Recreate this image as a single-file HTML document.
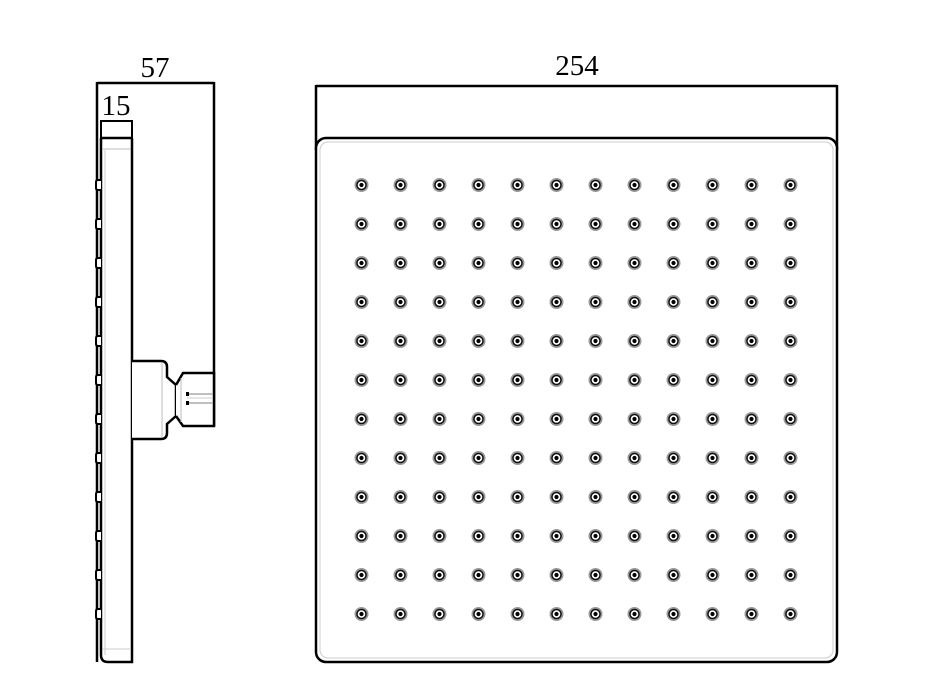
<!DOCTYPE html>
<html><head><meta charset="utf-8"><style>
html,body{margin:0;padding:0;background:#fff;}
svg{display:block}
text{font-family:"Liberation Serif",serif;font-size:29px;fill:#000}
</style></head><body>
<svg width="928" height="686" viewBox="0 0 928 686" xmlns="http://www.w3.org/2000/svg">
<defs>
<pattern id="p" patternUnits="userSpaceOnUse" x="342" y="165.5" width="39" height="39">
<circle cx="19.5" cy="19.5" r="7" fill="#999"/><circle cx="19.5" cy="19.5" r="5.3" fill="#111"/><circle cx="19.5" cy="19.5" r="3.8" fill="#fff"/><circle cx="19.5" cy="19.5" r="2.1" fill="#000"/>
</pattern>
</defs>
<text x="155" y="77" text-anchor="middle">57</text>
<line x1="97" y1="82" x2="97" y2="662" stroke="#000" stroke-width="2.5"/>
<line x1="97" y1="83" x2="214" y2="83" stroke="#000" stroke-width="2.5"/>
<line x1="214" y1="82" x2="214" y2="426" stroke="#000" stroke-width="2.5"/>
<text x="116" y="115" text-anchor="middle">15</text>
<line x1="101" y1="121" x2="132" y2="121" stroke="#000" stroke-width="2"/>
<line x1="101" y1="120" x2="101" y2="140" stroke="#000" stroke-width="2"/>
<line x1="132" y1="120" x2="132" y2="140" stroke="#000" stroke-width="2"/>
<line x1="101" y1="138" x2="132" y2="138" stroke="#000" stroke-width="2.5"/>
<line x1="103" y1="149" x2="132" y2="149" stroke="#bbb" stroke-width="1"/>
<path d="M101 138 V655 Q101 662 108 662 H132 V138" fill="none" stroke="#000" stroke-width="2.5"/>
<line x1="105" y1="150" x2="105" y2="655" stroke="#ccc" stroke-width="1"/>
<line x1="103" y1="649" x2="131" y2="649" stroke="#ccc" stroke-width="1"/>
<g fill="#fff" stroke="#000" stroke-width="2">
<path d="M101 180 H98 Q96 180 96 182 V188 Q96 190 98 190 H101"/>
<path d="M101 219 H98 Q96 219 96 221 V227 Q96 229 98 229 H101"/>
<path d="M101 258 H98 Q96 258 96 260 V266 Q96 268 98 268 H101"/>
<path d="M101 297 H98 Q96 297 96 299 V305 Q96 307 98 307 H101"/>
<path d="M101 336 H98 Q96 336 96 338 V344 Q96 346 98 346 H101"/>
<path d="M101 375 H98 Q96 375 96 377 V383 Q96 385 98 385 H101"/>
<path d="M101 414 H98 Q96 414 96 416 V422 Q96 424 98 424 H101"/>
<path d="M101 453 H98 Q96 453 96 455 V461 Q96 463 98 463 H101"/>
<path d="M101 492 H98 Q96 492 96 494 V500 Q96 502 98 502 H101"/>
<path d="M101 531 H98 Q96 531 96 533 V539 Q96 541 98 541 H101"/>
<path d="M101 570 H98 Q96 570 96 572 V578 Q96 580 98 580 H101"/>
<path d="M101 609 H98 Q96 609 96 611 V617 Q96 619 98 619 H101"/>
</g>
<path d="M132 361 H161 Q167 361 167 367 V377 L176 385 V416 L167 424 V433 Q167 439 161 439 H132" fill="#fff" stroke="#000" stroke-width="2.5"/>
<line x1="162" y1="363" x2="162" y2="437" stroke="#bbb" stroke-width="1"/>
<path d="M176 385 L183 373 H214 V426 H183 L176 416" fill="#fff" stroke="#000" stroke-width="2.5"/>
<line x1="181" y1="378" x2="181" y2="422" stroke="#bbb" stroke-width="1"/>
<line x1="187" y1="394" x2="213" y2="394" stroke="#aaa" stroke-width="1.5"/>
<line x1="187" y1="403" x2="213" y2="403" stroke="#aaa" stroke-width="1.5"/>
<line x1="187" y1="398" x2="213" y2="398" stroke="#ccc" stroke-width="1"/>
<rect x="186" y="392" width="3" height="4" fill="#000"/>
<rect x="186" y="401" width="3" height="4" fill="#000"/>
<text x="577" y="75" text-anchor="middle">254</text>
<line x1="316" y1="86" x2="837" y2="86" stroke="#000" stroke-width="2.5"/>
<line x1="316" y1="85" x2="316" y2="150" stroke="#000" stroke-width="2.5"/>
<line x1="837" y1="85" x2="837" y2="150" stroke="#000" stroke-width="2.5"/>
<rect x="316" y="138" width="521" height="524" rx="10" fill="#fff" stroke="#000" stroke-width="2.5"/>
<rect x="320" y="142" width="513" height="516" rx="8" fill="none" stroke="#ccc" stroke-width="1"/>
<rect x="342" y="165.5" width="468" height="468" fill="url(#p)"/>
</svg>
</body></html>
